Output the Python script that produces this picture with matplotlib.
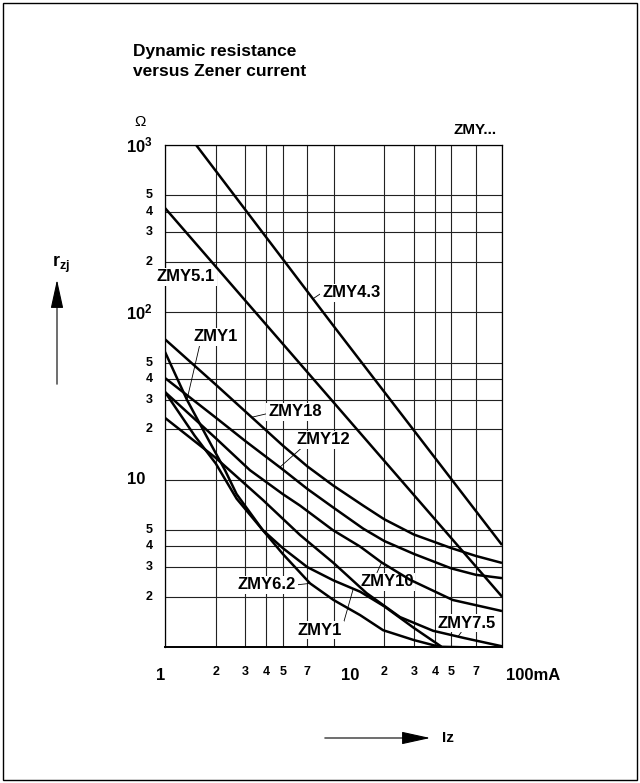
import numpy as np
import matplotlib
matplotlib.use('Agg')
import matplotlib.pyplot as plt
from matplotlib.patches import Rectangle, FancyArrowPatch
from matplotlib.ticker import FixedLocator, NullLocator, NullFormatter

plt.rcParams['font.family'] = ['Liberation Sans', 'DejaVu Sans']
plt.rcParams['mathtext.fontset'] = 'custom'
plt.rcParams['mathtext.rm'] = 'Liberation Sans'
plt.rcParams['mathtext.bf'] = 'Liberation Sans:bold'
plt.rcParams['mathtext.default'] = 'bf'

# Iz in mA, rzj in ohm
iz_43 = [1.53, 10, 100]
rz_43 = [1000, 83, 4.07]
iz_51 = [1, 10, 100]
rz_51 = [420, 29, 2.0]
iz_18 = [1, 2, 3.27, 5, 7, 10, 15, 20, 30, 50, 70, 100]
rz_18 = [69, 37, 23.6, 16, 12, 9.2, 7.0, 5.8, 4.7, 3.9, 3.5, 3.18]
iz_12 = [1, 2, 3, 5, 7, 10, 15, 20, 30, 50, 70, 100]
rz_12 = [40.5, 23.5, 17, 11.5, 8.8, 6.8, 5.1, 4.3, 3.6, 2.95, 2.7, 2.58]
iz_10 = [1, 2, 3.19, 5, 6.33, 9.9, 14.4, 19.3, 28.5, 51, 100]
rz_10 = [33.4, 17.7, 11.4, 8.2, 7.0, 5.0, 3.98, 3.2, 2.52, 1.91, 1.64]
iz_75 = [1, 2, 3.81, 6.33, 10, 15.7, 24.8, 39, 60, 100]
rz_75 = [23.4, 13.5, 7.56, 4.67, 3.18, 2.1, 1.51, 1.25, 1.13, 1.01]
iz_62 = [1, 1.5, 2, 2.66, 3.8, 5, 7.26, 10, 14.4, 19.7, 30, 43, 100]
rz_62 = [33.4, 18.3, 12.5, 7.7, 5.0, 3.6, 2.4, 1.91, 1.55, 1.26, 1.1, 1.0, 0.99]
iz_1 = [1, 1.35, 1.8, 2.27, 2.66, 3.8, 5, 7, 10, 14.4, 20, 30, 44, 100]
rz_1 = [58, 30, 17.5, 11.4, 8.2, 5.0, 3.9, 3.0, 2.5, 2.14, 1.75, 1.3, 1.0, 0.99]

curves = {
    '4.3': (iz_43, rz_43), '5.1': (iz_51, rz_51), '18': (iz_18, rz_18),
    '12': (iz_12, rz_12), '10': (iz_10, rz_10), '7.5': (iz_75, rz_75),
    '6.2': (iz_62, rz_62), '1': (iz_1, rz_1),
}

x_grid = [1, 2, 3, 4, 5, 7, 10, 20, 30, 40, 50, 70, 100]
y_grid = [1, 2, 3, 4, 5, 10, 20, 30, 40, 50, 100, 200, 300, 400, 500, 1000]
x_ticks = [1, 2, 3, 4, 5, 7, 10, 20, 30, 40, 50, 70, 100]
x_labels = ['1', '2', '3', '4', '5', '7', '10', '2', '3', '4', '5', '7', '100mA']
y_ticks = [2, 3, 4, 5, 10, 20, 30, 40, 50, 100, 200, 300, 400, 500, 1000]
y_labels = ['2', '3', '4', '5', '10', '2', '3', '4', '5', '$10^{2}$',
            '2', '3', '4', '5', '$10^{3}$']


def r_at(name, x):
    xs, ys = curves[name]
    return 10 ** np.interp(np.log10(x), np.log10(xs), np.log10(ys))


W, H = 640, 783
fig = plt.figure(figsize=(W / 100, H / 100), dpi=100)
fig.patches.append(Rectangle((3 / W, 3 / H), 634 / W, 777 / H, transform=fig.transFigure,
                             fill=False, lw=1.0, ec='k'))

ax = fig.add_axes([165 / W, (H - 647) / H, 337 / W, 502 / H])
ax.set_xscale('log')
ax.set_yscale('log')
ax.set_xlim(1, 100)
ax.set_ylim(1, 1000)
ax.xaxis.set_major_locator(FixedLocator(x_grid))
ax.yaxis.set_major_locator(FixedLocator(y_grid))
ax.xaxis.set_minor_locator(NullLocator())
ax.yaxis.set_minor_locator(NullLocator())
ax.xaxis.set_major_formatter(NullFormatter())
ax.yaxis.set_major_formatter(NullFormatter())
ax.tick_params(length=0)
ax.grid(True, color='#222222', lw=0.8, zorder=0)
ax.set_axisbelow(True)
for s in ax.spines.values():
    s.set_linewidth(0.9)
ax.spines['bottom'].set_linewidth(1.4)

for name, (xs, ys) in curves.items():
    ax.plot(xs, ys, color='k', lw=1.8, zorder=3, solid_capstyle='butt')

# axis numbers
for v, lab in zip(x_ticks, x_labels):
    big = lab in ('1', '10', '100mA')
    ha, dx = 'center', 0
    if lab == '1':
        dx = -4
    elif lab == '10':
        ha, dx = 'left', 7
    elif lab == '100mA':
        ha, dx = 'left', 4
    ax.annotate(lab, xy=(v, 0), xycoords=('data', 'axes fraction'),
                xytext=(dx, -28 if big else -25), textcoords='offset pixels',
                ha=ha, va='center', fontsize=12 if big else 9, fontweight='bold',
                annotation_clip=False)
for v, lab in zip(y_ticks, y_labels):
    big = lab.startswith('$') or lab == '10'
    ax.annotate(lab, xy=(0, v), xycoords=('axes fraction', 'data'),
                xytext=(-12 if lab != '10' else -20, 0), textcoords='offset pixels',
                ha='right', va='center', fontsize=12 if big else 9, fontweight='bold',
                annotation_clip=False)

# curve labels: text, curve, Iz of leader end, label position, leader start on the box
box = dict(boxstyle='square,pad=0.1', fc='white', ec='none')
labels = [
    ('ZMY4.3', '4.3', 7.55, (8.55, 131), (0, 0.5)),
    ('ZMY5.1', None, None, (0.896, 163), None),
    ('ZMY1', '1', 1.35, (1.47, 71.3), (0.15, 0)),
    ('ZMY18', '18', 3.27, (4.09, 25.4), (0, 0.4)),
    ('ZMY12', '12', 4.8, (6.07, 17.3), (0.1, 0)),
    ('ZMY6.2', '6.2', 7.26, (2.71, 2.35), (1, 0.5)),
    ('ZMY10', '10', 19.3, (14.4, 2.45), (0.3, 1)),
    ('ZMY1', '1', 13.1, (6.15, 1.26), (1, 0.7)),
    ('ZMY7.5', '7.5', 54.8, (41.7, 1.39), (0.42, 0)),
]
for text, name, xl, pos, rel in labels:
    if name is None:
        ax.text(pos[0], pos[1], text, ha='left', va='center', fontsize=12,
                fontweight='bold', bbox=box, zorder=2.6, clip_on=False)
        continue
    ax.annotate(text, xy=(xl, r_at(name, xl)), xytext=pos, ha='left', va='center',
                fontsize=12, fontweight='bold', bbox=box, zorder=2.6,
                annotation_clip=False,
                arrowprops=dict(arrowstyle='-', lw=0.6, color='k', shrinkA=0,
                                shrinkB=0, relpos=rel))

ax.text(93.5, 1231, 'ZMY...', ha='right', va='center', fontsize=11,
        fontweight='bold', clip_on=False)

fig.text(133 / W, 1 - 44 / H, 'Dynamic resistance\nversus Zener current',
         ha='left', va='top', fontsize=12.5, fontweight='bold', linespacing=1.45)
fig.text(140 / W, 1 - 122 / H, 'Ω', ha='center', va='center', fontsize=11)

# axis arrows
fig.patches.append(FancyArrowPatch((57 / W, (H - 387) / H), (57 / W, (H - 277) / H),
                                   transform=fig.transFigure, arrowstyle='-|>,head_length=1.0,head_width=0.22',
                                   mutation_scale=18, lw=0.8, color='k'))
fig.text(52 / W, 1 - 264 / H, '$r_{zj}$', ha='left', va='center', fontsize=13)
fig.patches.append(FancyArrowPatch((322 / W, (H - 738) / H), (433 / W, (H - 738) / H),
                                   transform=fig.transFigure, arrowstyle='-|>,head_length=1.0,head_width=0.22',
                                   mutation_scale=18, lw=0.8, color='k'))
fig.text(442 / W, 1 - 738 / H, 'Iz', ha='left', va='center', fontsize=11, fontweight='bold')

fig.savefig('out.png', dpi=100, facecolor='white')
